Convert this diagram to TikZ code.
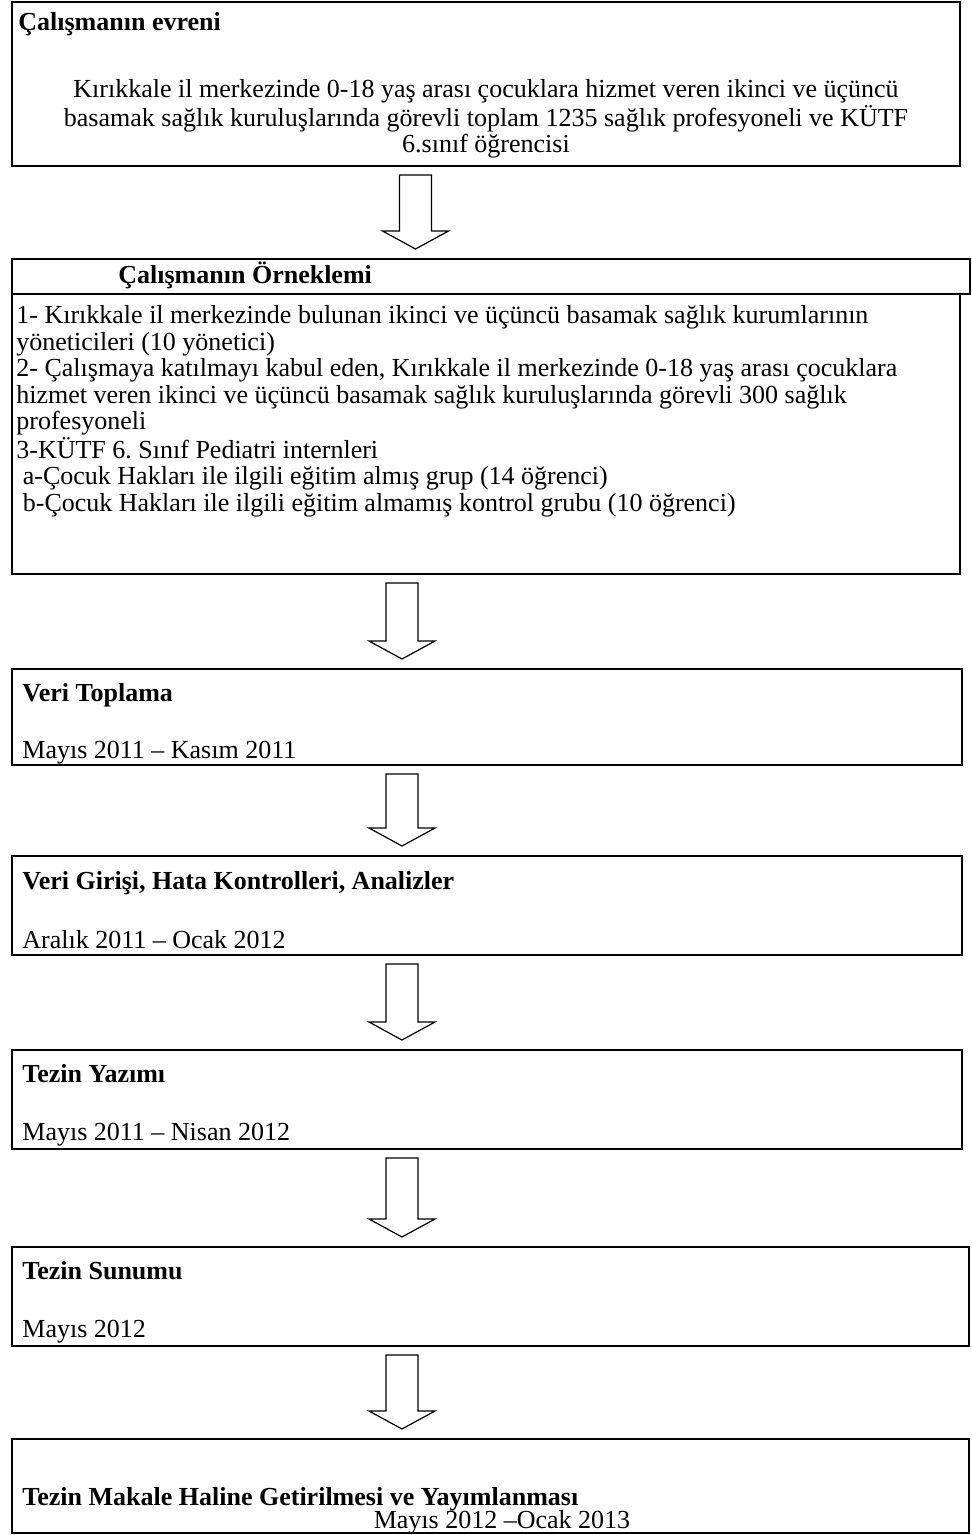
\documentclass[tikz,border=0pt]{standalone}
\usepackage{fontspec}
\setmainfont{Liberation Serif}
\usepackage{tikz}
\usetikzlibrary{calc,fit}

\tikzset{
  boxFrame/.style={draw=black,line width=1.2pt,inner sep=0pt,outer sep=0pt},
  hollowArrow/.style={draw=black,line width=0.6pt,fill=white,line join=miter},
  plainText/.style={anchor=base west,inner sep=0pt,font=\fontsize{13pt}{13.2pt}\selectfont},
  headText/.style={anchor=base west,inner sep=0pt,font=\fontsize{13pt}{13.2pt}\selectfont\bfseries}
}

% hollow block arrow: from node, to node, x of its axis
\newcommand{\blockarrow}[3]{%
  \path (#3,0) coordinate (ba x);
  \path ($(ba x |- #1.south)+(0,9)$) coordinate (ba top)
        ($(ba x |- #2.north)+(0,-10)$) coordinate (ba tip);
  \draw[hollowArrow] ($(ba top)+(-16,0)$) -- ($(ba top)+(16,0)$)
    -- ($(ba tip)+(16,-18)$) -- ($(ba tip)+(33,-18)$) -- (ba tip)
    -- ($(ba tip)+(-33,-18)$) -- ($(ba tip)+(-16,-18)$) -- cycle;}

\begin{document}
\begin{tikzpicture}[x=0.5pt,y=-0.5pt]
  \useasboundingbox (0,0) rectangle (972,1535);

  % Evren
  \node[boxFrame,fit={(12,2) (960,166)}] (evren) {};
  \node[headText] (evrenBaslik) at (18,31) {Çalışmanın evreni};
  \node[plainText,anchor=base,align=center,font=\fontsize{13pt}{13.25pt}\selectfont] (evrenMetin) at (486,153)
    {Kırıkkale il merkezinde 0-18 yaş arası çocuklara hizmet veren ikinci ve üçüncü\\
     basamak sağlık kuruluşlarında görevli toplam 1235 sağlık profesyoneli ve KÜTF\\
     6.sınıf öğrencisi};

  % Örneklem
  \node[boxFrame,fit={(12,259) (970,294)}] (orneklemBaslik) {};
  \node[headText] (orneklemAd) at (118,284) {Çalışmanın Örneklemi};
  \node[boxFrame,fit={(12,294) (960,574)}] (orneklem) {};
  \node[plainText,align=left] (orneklemMetin) at (16,511)
    {1- Kırıkkale il merkezinde bulunan ikinci ve üçüncü basamak sağlık kurumlarının\\
     yöneticileri (10 yönetici)\\
     2- Çalışmaya katılmayı kabul eden, Kırıkkale il merkezinde 0-18 yaş arası çocuklara\\
     hizmet veren ikinci ve üçüncü basamak sağlık kuruluşlarında görevli 300 sağlık\\
     profesyoneli\\
     3-KÜTF 6.\ Sınıf Pediatri internleri\\
     \ a-Çocuk Hakları ile ilgili eğitim almış grup (14 öğrenci)\\
     \ b-Çocuk Hakları ile ilgili eğitim almamış kontrol grubu (10 öğrenci)};

  % Veri toplama
  \node[boxFrame,fit={(12,669) (962,765)}] (toplama) {};
  \node[headText] (toplamaAd) at (22,701) {Veri Toplama};
  \node[plainText] (toplamaTarih) at (22,758) {Mayıs 2011 – Kasım 2011};

  % Veri girişi
  \node[boxFrame,fit={(12,856) (962,955)}] (analiz) {};
  \node[headText] (analizAd) at (22,889) {Veri Girişi, Hata Kontrolleri, Analizler};
  \node[plainText] (analizTarih) at (22,948) {Aralık 2011 – Ocak 2012};

  % Tezin yazımı
  \node[boxFrame,fit={(12,1050) (962,1149)}] (yazim) {};
  \node[headText] (yazimAd) at (22,1082) {Tezin Yazımı};
  \node[plainText] (yazimTarih) at (22,1140) {Mayıs 2011 – Nisan 2012};

  % Tezin sunumu
  \node[boxFrame,fit={(12,1247) (969,1346)}] (sunum) {};
  \node[headText] (sunumAd) at (22,1279) {Tezin Sunumu};
  \node[plainText] (sunumTarih) at (22,1337) {Mayıs 2012};

  % Makale
  \node[boxFrame,fit={(12,1439) (969,1533)}] (makale) {};
  \node[headText] (makaleAd) at (22,1505) {Tezin Makale Haline Getirilmesi ve Yayımlanması};
  \node[plainText,anchor=base] (makaleTarih) at (502,1528) {Mayıs 2012 –Ocak 2013};

  % Oklar
  \blockarrow{evren}{orneklemBaslik}{415.5}
  \blockarrow{orneklem}{toplama}{402}
  \blockarrow{toplama}{analiz}{402}
  \blockarrow{analiz}{yazim}{402}
  \blockarrow{yazim}{sunum}{402}
  \blockarrow{sunum}{makale}{402}
\end{tikzpicture}
\end{document}
